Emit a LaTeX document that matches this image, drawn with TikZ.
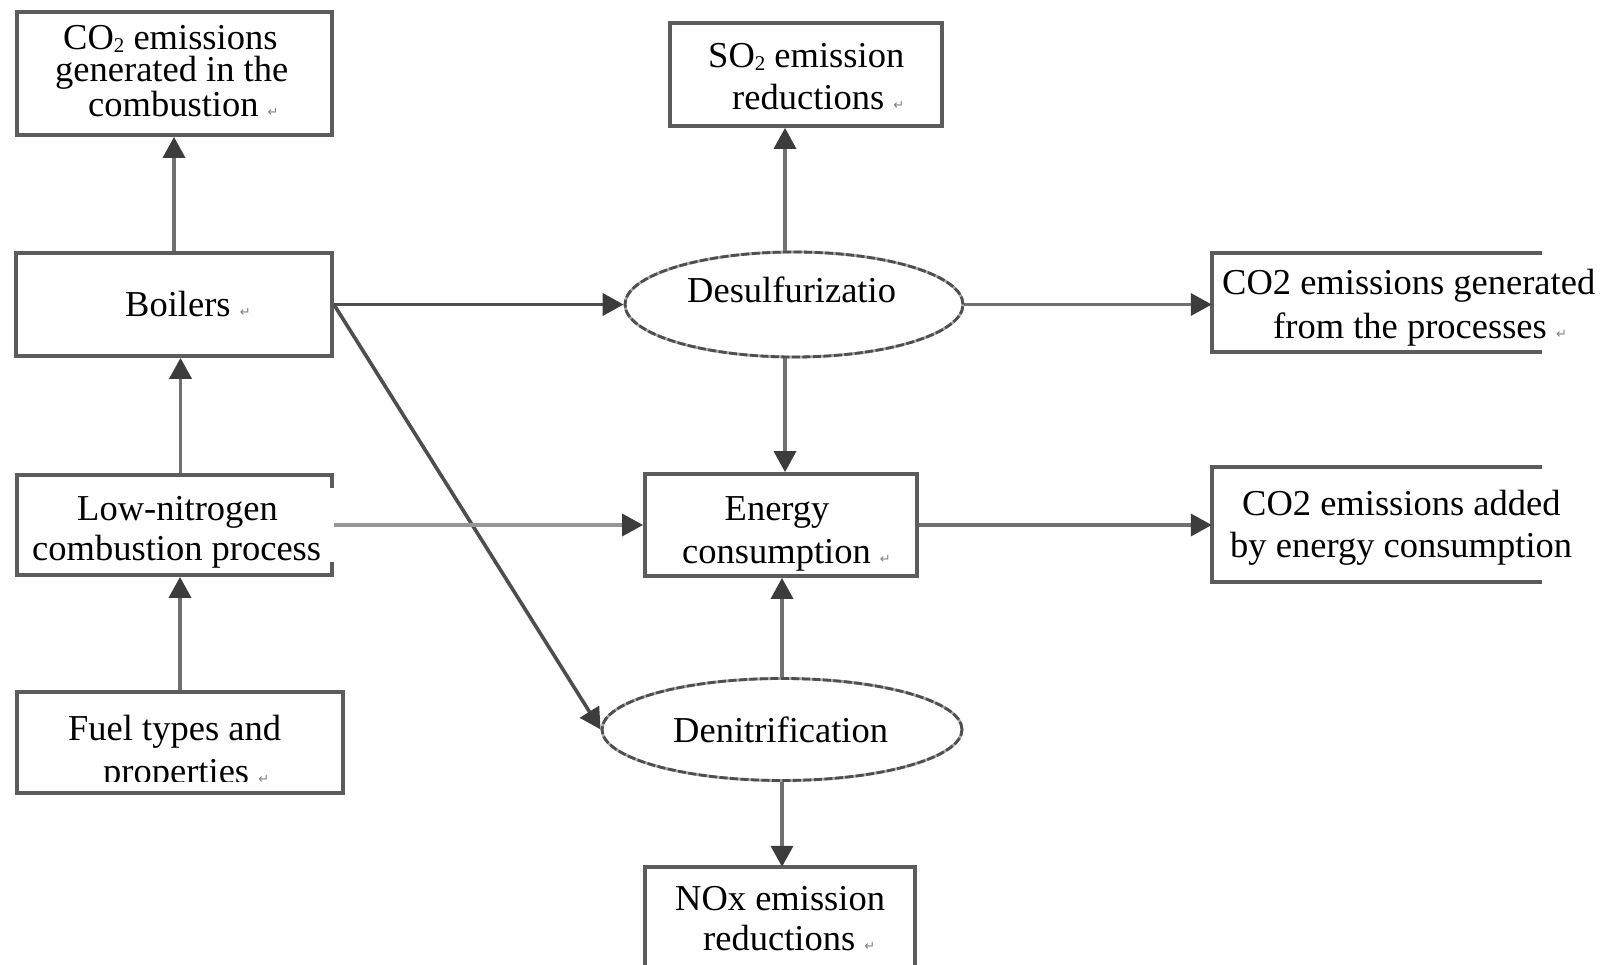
\documentclass[tikz,border=0pt]{standalone}
\usepackage{fontspec}
\setmainfont{Liberation Serif}
\newfontfamily\dejavu{DejaVu Sans}
\usetikzlibrary{shapes.geometric,arrows.meta}
\definecolor{boxgray}{RGB}{92,92,92}
\definecolor{tipgray}{RGB}{60,60,60}
\definecolor{darkline}{RGB}{78,78,78}
\definecolor{midline}{RGB}{112,112,112}
\definecolor{lightline}{RGB}{150,150,150}
\newcommand{\retmark}{{\dejavu\fontsize{13}{13}\selectfont\color{gray}↵}}
\newcommand{\subtwo}{\raisebox{-3pt}{\fontsize{21}{21}\selectfont 2}}
\begin{document}
\begin{tikzpicture}[x=1pt,y=-1pt,
  box/.style={rectangle,draw=boxgray,line width=3.8pt,inner sep=0pt},
  openbox/.style={rectangle,inner sep=0pt},
  boxline/.style={draw=boxgray,line width=3.8pt},
  oval/.style={ellipse,inner sep=0pt,draw=darkline,line width=2.8pt,dash pattern=on 8pt off 2.5pt,
    preaction={draw=gray!70,line width=2.8pt,solid}},
  txt/.style={anchor=base west,inner sep=0pt,font=\fontsize{36.5}{40}\selectfont},
  arr/.style={line width=3.6pt,-{Triangle[length=21pt,width=22pt,color=tipgray]}},
  dkarr/.style={arr,draw=darkline},
  mdarr/.style={arr,draw=midline},
  ltarr/.style={arr,draw=lightline}]
\fill[white] (0,0) rectangle (1616,965);
\useasboundingbox (0,0) rectangle (1616,965);

% shapes
\node[box,minimum width=315pt,minimum height=123pt] (co2c) at (174.5,73.5) {};
\node[box,minimum width=272pt,minimum height=103pt] (so2) at (806,74.5) {};
\node[box,minimum width=316pt,minimum height=103pt] (boil) at (174,304.5) {};
\node[oval,minimum width=338pt,minimum height=105pt] (desulf) at (794,304.5) {};
\node[openbox,minimum width=330pt,minimum height=99pt] (co2p) at (1377,302.5) {};
\node[box,minimum width=315pt,minimum height=100pt] (lown) at (174.5,525) {};
\node[box,minimum width=272pt,minimum height=102pt] (energy) at (781,525) {};
\node[openbox,minimum width=330pt,minimum height=115pt] (co2e) at (1377,524.5) {};
\node[box,minimum width=326pt,minimum height=101pt] (fuel) at (180,742.5) {};
\node[oval,minimum width=360pt,minimum height=102pt] (denit) at (782,729.5) {};
\node[openbox,minimum width=270pt,minimum height=110pt] (nox) at (780,922) {};

\draw[boxline] (co2p.north east) -- (co2p.north west) -- (co2p.south west) -- (co2p.south east);
\draw[boxline] (co2e.north east) -- (co2e.north west) -- (co2e.south west) -- (co2e.south east);
\draw[boxline] (nox.south west) -- (nox.north west) -- (nox.north east) -- (nox.south east);
\fill[white] (329,488) rectangle (337,562);

% texts
\node[txt] (tco2c1) at (63,49.5) {CO\subtwo{} emissions};
\node[txt] (tco2c2) at (55,82) {generated in the};
\node[txt] (tco2c3) at (88,117) {combustion \retmark};
\node[txt] (tso21) at (708,68) {SO\subtwo{} emission};
\node[txt] (tso22) at (732,110) {reductions \retmark};
\node[txt] (tboil) at (125,317) {Boilers \retmark};
\node[txt] (tdesulf) at (687,303) {Desulfurizatio};
\node[txt] (tco2p1) at (1222,295) {CO2 emissions generated};
\node[txt] (tco2p2) at (1273,338) {from the processes \retmark};
\node[txt] (tlown1) at (77,520) {Low-nitrogen};
\node[txt] (tlown2) at (32,560) {combustion process};
\node[txt] (tenergy1) at (724.5,520) {Energy};
\node[txt] (tenergy2) at (682,563) {consumption \retmark};
\node[txt] (tco2e1) at (1242,515) {CO2 emissions added};
\node[txt] (tco2e2) at (1230,557) {by energy consumption};
\node[txt] (tfuel1) at (68,740) {Fuel types and};
\begin{scope}
\clip (0,0) rectangle (1616,781.5);
\node[txt] (tfuel2) at (103,783) {properties \retmark};
\end{scope}
\node[txt] (tdenit) at (673,742) {Denitrification};
\node[txt] (tnox1) at (675,910) {NOx emission};
\node[txt] (tnox2) at (703,950) {reductions \retmark};

% connectors
\draw[mdarr] (boil.north) -- (boil.north |- co2c.south);
\draw[mdarr] ([xshift=6pt]lown.north) -- ([xshift=6pt]lown.north |- boil.south);
\draw[mdarr] (fuel.north) -- (fuel.north |- lown.south);
\draw[dkarr] (boil.east) -- (desulf.west);
\draw[dkarr] (boil.east) -- (denit.west);
\draw[ltarr] (lown.east) -- (energy.west);
\draw[mdarr] ([xshift=-9pt]desulf.north) -- ([xshift=-9pt]desulf.north |- so2.south);
\draw[mdarr] ([xshift=-9pt]desulf.south) -- ([xshift=-9pt]desulf.south |- energy.north);
\draw[mdarr] (desulf.east) -- (desulf.east -| co2p.west);
\draw[mdarr] (energy.east) -- (energy.east -| co2e.west);
\draw[mdarr] (denit.north) -- (denit.north |- energy.south);
\draw[mdarr] (denit.south) -- (denit.south |- nox.north);
\end{tikzpicture}
\end{document}
